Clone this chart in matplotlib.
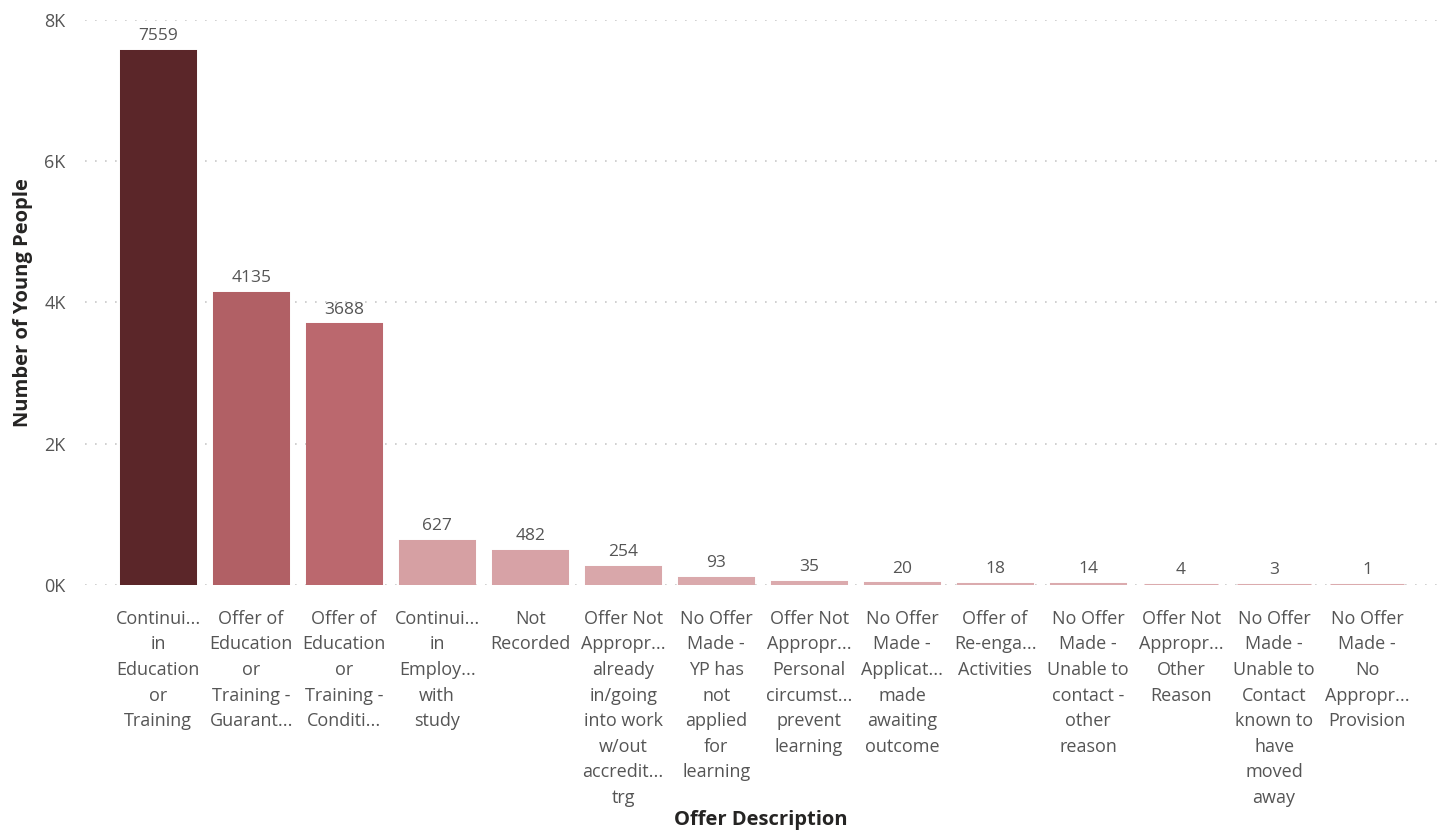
import numpy as np
import matplotlib.pyplot as plt
from matplotlib.colors import LinearSegmentedColormap
from matplotlib.ticker import FuncFormatter

plt.rcParams['font.family'] = ['Open Sans', 'DejaVu Sans']

categories = [
    "Continui...\nin\nEducation\nor\nTraining",
    "Offer of\nEducation\nor\nTraining -\nGuarant...",
    "Offer of\nEducation\nor\nTraining -\nConditi...",
    "Continui...\nin\nEmploy...\nwith\nstudy",
    "Not\nRecorded",
    "Offer Not\nAppropr...\nalready\nin/going\ninto work\nw/out\naccredit...\ntrg",
    "No Offer\nMade -\nYP has\nnot\napplied\nfor\nlearning",
    "Offer Not\nAppropr...\nPersonal\ncircumst...\nprevent\nlearning",
    "No Offer\nMade -\nApplicat...\nmade\nawaiting\noutcome",
    "Offer of\nRe-enga...\nActivities",
    "No Offer\nMade -\nUnable to\ncontact -\nother\nreason",
    "Offer Not\nAppropr...\nOther\nReason",
    "No Offer\nMade -\nUnable to\nContact\nknown to\nhave\nmoved\naway",
    "No Offer\nMade -\nNo\nAppropr...\nProvision",
]
values = [7559, 4135, 3688, 627, 482, 254, 93, 35, 20, 18, 14, 4, 3, 1]

# diverging colour scale: light at min, mid red at centre, dark at max
cmap = LinearSegmentedColormap.from_list("pbi", ["#DBABAE", "#BA666C", "#5B2629"])
vmin, vmax = min(values), max(values)
colors = [cmap((v - vmin) / (vmax - vmin)) for v in values]

fig = plt.figure(figsize=(14.43, 8.32), dpi=100)
ax = fig.add_axes([0.059, 0.297, 0.939, 0.679])

x = np.arange(len(values))
ax.bar(x, values, width=0.8, color=colors, edgecolor=colors, linewidth=2.2, zorder=3)

for xi, v in zip(x, values):
    ax.annotate(str(v), (xi, v), xytext=(0, 5), textcoords="offset points",
                ha="center", va="bottom", fontsize=12.5, color="#555555")

ax.set_xlim(-0.785, len(values) - 1 + 0.785)
ax.set_ylim(0, 8000)
ax.set_yticks([0, 2000, 4000, 6000, 8000])
ax.yaxis.set_major_formatter(FuncFormatter(lambda v, p: f"{int(v/1000)}K"))
ax.set_xticks(x)
ax.set_xticklabels(categories, fontsize=13, color="#555555", linespacing=1.54,
                   va="top", ha="center")
ax.tick_params(axis="x", length=0, pad=18)
ax.tick_params(axis="y", length=0, pad=14, labelsize=13, labelcolor="#555555")

ax.grid(axis="y", color="#C8C8C8", linestyle=(0, (1, 5)), linewidth=1.2, zorder=0)
ax.set_axisbelow(True)
for s in ax.spines.values():
    s.set_visible(False)

ax.set_ylabel("Number of Young People", fontsize=14.5, fontweight="bold",
              color="#252423", labelpad=8)
fig.text(0.527, 0.003, "Offer Description", fontsize=14.5, fontweight="bold",
         color="#252423", ha="center", va="bottom")

fig.savefig("out.png", dpi=100)
